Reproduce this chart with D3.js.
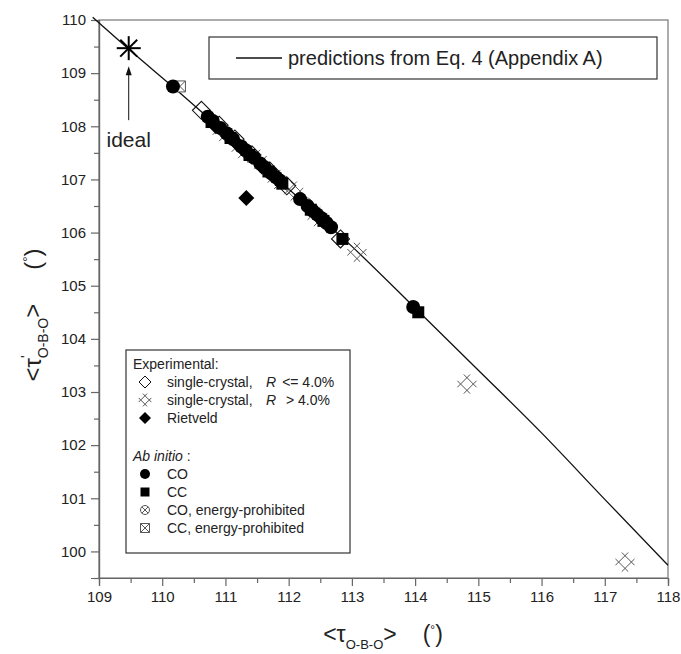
<!DOCTYPE html>
<html>
<head>
<meta charset="utf-8">
<script src="https://cdn.jsdelivr.net/npm/d3@7"></script>
<style>
  body { margin: 0; background: #fff; }
  svg { display: block; }
  text { font-family: "Liberation Sans", Arial, sans-serif; fill: #222; }
</style>
</head>
<body>
<div id="chart"></div>
<script>
// ticks
const xTickValues = [109, 110, 111, 112, 113, 114, 115, 116, 117, 118];
const yTickValues = [100, 101, 102, 103, 104, 105, 106, 107, 108, 109, 110];

// curve from Eq. 4
const predX = [108.9, 109.5, 110.2, 111.0, 112.0, 113.0, 114.0, 115.0, 116.0, 117.0, 118.0];
const predY = [110.05, 109.42, 108.71, 107.88, 106.82, 105.74, 104.58, 103.41, 102.23, 100.98, 99.74];

// ideal tetrahedron
const idealX = [109.47];
const idealY = [109.47];

// experimental, single-crystal R <= 4.0%
const scLowX = [110.62, 110.9, 111.15, 111.42, 111.7, 111.97, 112.82];
const scLowY = [108.3, 108.02, 107.76, 107.46, 107.16, 106.88, 105.88];

// experimental, single-crystal R > 4.0%
const scHighX = [110.95, 111.25, 111.5, 111.82, 112.08, 112.45, 113.08, 114.82, 117.32];
const scHighY = [107.9, 107.58, 107.38, 107.0, 106.78, 106.3, 105.63, 103.15, 99.8];

// experimental, Rietveld
const rietX = [111.33, 110.85, 111.18, 111.58];
const rietY = [106.65, 108.0, 107.68, 107.24];

// ab initio CO
const coX = [110.17, 110.72, 110.8, 110.92, 111.02, 111.12, 111.25, 111.32, 111.45, 111.55, 111.62,
             111.72, 111.8, 111.86, 112.18, 112.3, 112.38, 112.45, 112.52, 112.6, 112.67, 113.97];
const coY = [108.75, 108.18, 108.1, 107.97, 107.87, 107.76, 107.62, 107.55, 107.41, 107.3, 107.23,
             107.12, 107.04, 106.98, 106.63, 106.5, 106.41, 106.34, 106.27, 106.18, 106.1, 104.6];

// ab initio CC
const ccX = [110.78, 111.08, 111.38, 111.68, 111.9, 112.35, 112.55, 112.85, 114.05];
const ccY = [108.08, 107.78, 107.46, 107.15, 106.92, 106.43, 106.22, 105.88, 104.5];

// ab initio, energy-prohibited
const coEpX = [111.4, 112.28];
const coEpY = [107.42, 106.55];
const ccEpX = [110.28];
const ccEpY = [108.75];

const width = 681, height = 654;
const x = d3.scaleLinear().domain([109, 118]).range([99, 668]);
const y = d3.scaleLinear().domain([99.5, 110]).range([578, 20]);

const svg = d3.select("#chart").append("svg")
  .attr("width", width)
  .attr("height", height);

// marker shapes
const diamond = s => `M0,${-s}L${s},0L0,${s}L${-s},0Z`;
const square = s => `M${-s},${-s}H${s}V${s}H${-s}Z`;
function hatch(L, d) {
  // rotated "#" : two lines in each diagonal direction
  const u = Math.SQRT1_2;
  let p = "";
  [-d, d].forEach(s => {
    const ox = -u * s, oy = u * s;
    p += `M${ox - L * u},${oy - L * u}L${ox + L * u},${oy + L * u}`;
    const qx = u * s, qy = u * s;
    p += `M${qx - L * u},${qy + L * u}L${qx + L * u},${qy - L * u}`;
  });
  return p;
}
const boxX = s => square(s) + `M${-s},${-s}L${s},${s}M${-s},${s}L${s},${-s}`;
const circle = r => `M${r},0A${r},${r} 0 1,1 ${-r},0A${r},${r} 0 1,1 ${r},0Z`;
const circX = r => {
  const c = r * Math.SQRT1_2;
  return circle(r) + `M${-c},${-c}L${c},${c}M${-c},${c}L${c},${-c}`;
};

// frame
svg.append("rect")
  .attr("x", 99).attr("y", 20)
  .attr("width", 569).attr("height", 558)
  .attr("fill", "none").attr("stroke", "#777").attr("stroke-width", 1.2);

// axes
svg.append("g").attr("transform", "translate(0,578)")
  .call(d3.axisBottom(x).tickValues(xTickValues).tickSize(8).tickPadding(5).tickFormat(d3.format("d")));
svg.append("g").attr("transform", "translate(0,578)")
  .call(d3.axisBottom(x).tickValues(d3.range(109.5, 118, 1)).tickSize(5).tickFormat(""));
svg.append("g").attr("transform", "translate(99,0)")
  .call(d3.axisLeft(y).tickValues(yTickValues).tickSize(8).tickPadding(5).tickFormat(d3.format("d")));
svg.append("g").attr("transform", "translate(99,0)")
  .call(d3.axisLeft(y).tickValues(d3.range(99.5, 110, 1)).tickSize(5).tickFormat(""));
svg.selectAll(".domain, .tick line").attr("stroke", "#666").attr("stroke-width", 1.2);
svg.selectAll(".tick text").attr("font-size", 15).attr("fill", "#222")
  .style("font-family", "'Liberation Sans', Arial, sans-serif");

// prediction curve
const pred = predX.map((v, i) => [v, predY[i]]);
svg.append("path")
  .datum(pred)
  .attr("fill", "none")
  .attr("stroke", "#111")
  .attr("stroke-width", 1.3)
  .attr("d", d3.line().x(d => x(d[0])).y(d => y(d[1])).curve(d3.curveMonotoneX));

// series, drawn back to front
const series = [
  { xs: scLowX, ys: scLowY, path: diamond(9), fill: "none", stroke: "#111", sw: 1.1 },
  { xs: scHighX, ys: scHighY, path: hatch(9, 4.5), fill: "none", stroke: "#555", sw: 1 },
  { xs: rietX, ys: rietY, path: diamond(8), fill: "#000", stroke: "none", sw: 0 },
  { xs: ccEpX, ys: ccEpY, path: boxX(5.5), fill: "#fff", stroke: "#555", sw: 1 },
  { xs: coEpX, ys: coEpY, path: circX(5.5), fill: "#fff", stroke: "#555", sw: 1 },
  { xs: ccX, ys: ccY, path: square(6), fill: "#000", stroke: "none", sw: 0 },
  { xs: coX, ys: coY, path: circle(7), fill: "#000", stroke: "none", sw: 0 }
];
series.forEach(s => {
  svg.append("g").selectAll("path")
    .data(s.xs.map((v, i) => [v, s.ys[i]]))
    .join("path")
    .attr("transform", d => `translate(${x(d[0])},${y(d[1])})`)
    .attr("d", s.path)
    .attr("fill", s.fill)
    .attr("stroke", s.stroke)
    .attr("stroke-width", s.sw);
});

// ideal star + label
const star = svg.append("g").selectAll("g")
  .data(idealX.map((v, i) => [v, idealY[i]]))
  .join("g")
  .attr("transform", d => `translate(${x(d[0])},${y(d[1])})`);
[0, 45, 90, 135].forEach(a => {
  star.append("line")
    .attr("x1", -12).attr("x2", 12)
    .attr("transform", `rotate(${a})`)
    .attr("stroke", "#000").attr("stroke-width", 2);
});
const ix = x(idealX[0]), iy = y(idealY[0]);
svg.append("line")
  .attr("x1", ix).attr("x2", ix)
  .attr("y1", iy + 72).attr("y2", iy + 24)
  .attr("stroke", "#111").attr("stroke-width", 1);
svg.append("path")
  .attr("d", `M${ix},${iy + 18}L${ix - 3},${iy + 27}L${ix + 3},${iy + 27}Z`)
  .attr("fill", "#111");
svg.append("text")
  .attr("x", ix).attr("y", iy + 99)
  .attr("text-anchor", "middle")
  .attr("font-size", 21)
  .text("ideal");

// top legend
svg.append("rect")
  .attr("x", 209).attr("y", 37).attr("width", 448).attr("height", 42)
  .attr("fill", "#fff").attr("stroke", "#333").attr("stroke-width", 1.2);
svg.append("line")
  .attr("x1", 236).attr("x2", 282).attr("y1", 58).attr("y2", 58)
  .attr("stroke", "#111").attr("stroke-width", 1.3);
svg.append("text")
  .attr("x", 288).attr("y", 65)
  .attr("font-size", 20)
  .text("predictions from Eq. 4 (Appendix A)");

// lower legend
svg.append("rect")
  .attr("x", 126).attr("y", 350).attr("width", 224).attr("height", 203)
  .attr("fill", "#fff").attr("stroke", "#333").attr("stroke-width", 1.2);
const lg = svg.append("g").attr("font-size", 14);
lg.append("text").attr("x", 133).attr("y", 369).text("Experimental:");
const legendRows = [
  { yy: 382, path: diamond(6), fill: "none", stroke: "#111", label: "single-crystal,", r: "<= 4.0%" },
  { yy: 400, path: hatch(6, 3), fill: "none", stroke: "#555", label: "single-crystal,", r: " > 4.0%" },
  { yy: 418, path: diamond(6), fill: "#000", stroke: "none", label: "Rietveld" },
  { yy: 474, path: circle(5), fill: "#000", stroke: "none", label: "CO" },
  { yy: 492, path: square(4.5), fill: "#000", stroke: "none", label: "CC" },
  { yy: 510, path: circX(4.5), fill: "#fff", stroke: "#555", label: "CO, energy-prohibited" },
  { yy: 528, path: boxX(4.5), fill: "#fff", stroke: "#555", label: "CC, energy-prohibited" }
];
legendRows.forEach(r => {
  lg.append("path")
    .attr("transform", `translate(145,${r.yy})`)
    .attr("d", r.path).attr("fill", r.fill).attr("stroke", r.stroke).attr("stroke-width", 1);
  lg.append("text").attr("x", 167).attr("y", r.yy + 5).text(r.label);
  if (r.r) {
    const t = lg.append("text").attr("x", 266).attr("y", r.yy + 5);
    t.append("tspan").attr("font-style", "italic").text("R");
    t.append("tspan").attr("dx", 6).text(r.r);
  }
});
const ab = lg.append("text").attr("x", 133).attr("y", 461);
ab.append("tspan").attr("font-style", "italic").text("Ab initio");
ab.append("tspan").text(" :");

// axis titles
const xt = svg.append("text")
  .attr("x", 383).attr("y", 642)
  .attr("text-anchor", "middle");
xt.append("tspan").attr("font-size", 23).text("<τ");
xt.append("tspan").attr("font-size", 13).attr("dy", 7).text("O-B-O");
xt.append("tspan").attr("font-size", 23).attr("dy", -7).text(">");
xt.append("tspan").attr("font-size", 23).attr("dx", 26).text("(");
xt.append("tspan").attr("font-size", 12).attr("dy", -8).text("°");
xt.append("tspan").attr("font-size", 23).attr("dy", 8).text(")");

const yt = svg.append("text")
  .attr("transform", "translate(41,315) rotate(-90)")
  .attr("text-anchor", "middle");
yt.append("tspan").attr("font-size", 24).text("<τ");
yt.append("tspan").attr("font-size", 14).attr("dy", -10).text("'");
yt.append("tspan").attr("font-size", 14).attr("dy", 17).attr("dx", -3).text("O-B-O");
yt.append("tspan").attr("font-size", 24).attr("dy", -7).text(">");
yt.append("tspan").attr("font-size", 24).attr("dx", 34).text("(");
yt.append("tspan").attr("font-size", 13).attr("dy", -9).text("°");
yt.append("tspan").attr("font-size", 24).attr("dy", 9).text(")");
</script>
</body>
</html>
